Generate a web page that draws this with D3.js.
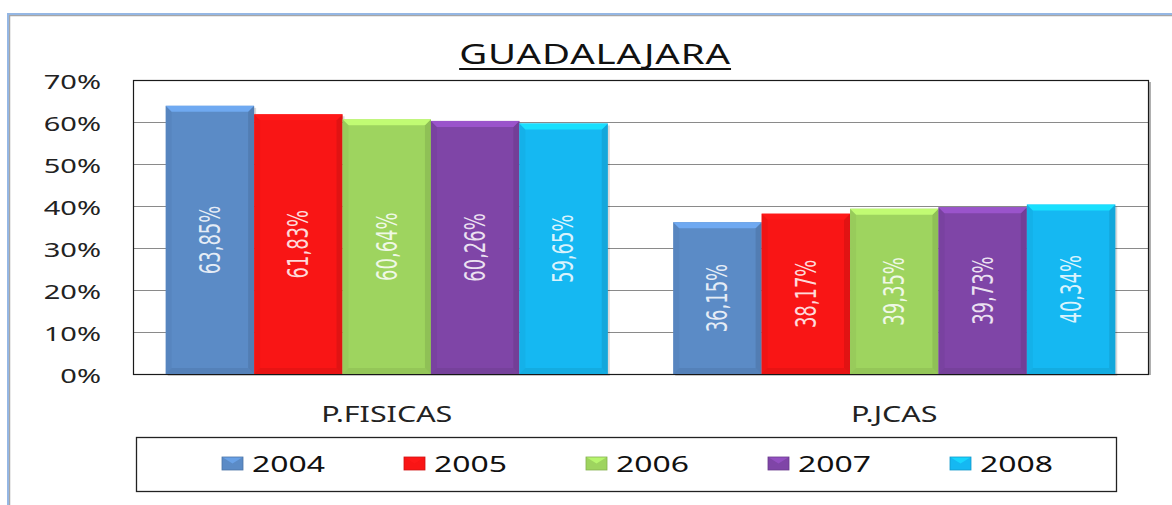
<!DOCTYPE html>
<html><head><meta charset="utf-8">
<script src="https://cdn.jsdelivr.net/npm/d3@7"></script>
<style>
html,body{margin:0;padding:0;background:#fff;}
svg{display:block;}
</style></head>
<body>
<svg id="chart" width="1172" height="505"></svg>
<script>
const title = "GUADALAJARA";
const categories = ["P.FISICAS", "P.JCAS"];
const years = ["2004", "2005", "2006", "2007", "2008"];
const v2004 = [63.85, 36.15];
const v2005 = [61.83, 38.17];
const v2006 = [60.64, 39.35];
const v2007 = [60.26, 39.73];
const v2008 = [59.65, 40.34];
const yTicks = [0, 10, 20, 30, 40, 50, 60, 70];
const colors = ["#5b8bc6", "#f91515", "#9ed45f", "#7f45a7", "#15b8f2"];

const series = [v2004, v2005, v2006, v2007, v2008];
const SX = 1.45; // horizontal stretch of the original picture's text

const svg = d3.select("#chart");
const W = 1172, H = 505;
const plot = {left: 133, right: 1148, top: 80, bottom: 374};

// outer frame
svg.append("rect").attr("x", 9.5).attr("y", 15.5).attr("width", W + 20).attr("height", H + 20)
  .attr("fill", "none").attr("stroke", "#a6a6a6").attr("stroke-width", 1.5);
svg.append("rect").attr("x", 8).attr("y", 14).attr("width", W + 20).attr("height", H + 20)
  .attr("fill", "none").attr("stroke", "#95b7e4").attr("stroke-width", 2);

const x0 = d3.scaleBand().domain(categories).range([plot.left, plot.right]).paddingInner(0).paddingOuter(0);
const x1 = d3.scaleBand().domain(years).range([0, x0.bandwidth()]).paddingInner(0).paddingOuter(0.37);
const y = d3.scaleLinear().domain([0, 70]).range([plot.bottom, plot.top]);

// gridlines
svg.append("g").selectAll("line").data(yTicks.filter(t => t > 0 && t < 70)).join("line")
  .attr("x1", plot.left).attr("x2", plot.right)
  .attr("y1", d => Math.round(y(d)) + 0.5).attr("y2", d => Math.round(y(d)) + 0.5)
  .attr("stroke", "#8a8a8a").attr("stroke-width", 1);

// plot frame: shadow on right
svg.append("line").attr("x1", plot.right + 2).attr("x2", plot.right + 2).attr("y1", plot.top + 2).attr("y2", plot.bottom + 1)
  .attr("stroke", "#b0b0b0").attr("stroke-width", 2);
svg.append("rect").attr("x", plot.left + 0.5).attr("y", plot.top + 0.5)
  .attr("width", plot.right - plot.left).attr("height", plot.bottom - plot.top)
  .attr("fill", "none").attr("stroke", "#1a1a1a").attr("stroke-width", 1.2);

// y axis labels
const yAxis = d3.axisLeft(y).tickValues(yTicks).tickFormat(d => d + "%").tickSize(0).tickPadding(0);
const ga = svg.append("g").attr("transform", `translate(${plot.left},0)`).call(yAxis);
ga.select(".domain").remove();
ga.selectAll(".tick text")
  .attr("x", 0).attr("dy", null).attr("dominant-baseline", "central")
  .attr("text-anchor", "end")
  .attr("font-family", "'Noto Sans', 'Open Sans', sans-serif").attr("font-size", 20).attr("fill", "#222")
  .attr("transform", `translate(-32,0) scale(${SX},1)`);

// bars
const data = [];
categories.forEach((c, ci) => years.forEach((yr, yi) => data.push({c, yr, yi, v: series[yi][ci]})));

function shade(col, k) { return d3.color(col).darker(k).formatHex(); }
function tint(col, k) { return d3.color(col).brighter(k).formatHex(); }

const gb = svg.append("g");
const bars = gb.selectAll("g.bar").data(data).join("g").attr("class", "bar");
bars.each(function(d) {
  const g = d3.select(this);
  const bx = x0(d.c) + x1(d.yr), bw = x1.bandwidth();
  const by = y(d.v), bh = y(0) - y(d.v);
  const col = colors[d.yi];
  const e = 6;
  // shadow
  g.append("rect").attr("x", bx + 2).attr("y", by + 2).attr("width", bw).attr("height", bh)
    .attr("fill", "#000").attr("opacity", 0.15);
  g.append("rect").attr("x", bx).attr("y", by).attr("width", bw).attr("height", bh).attr("fill", col);
  // left bevel
  g.append("polygon").attr("points", [[bx, by], [bx + e, by + e], [bx + e, by + bh - e], [bx, by + bh]].join(" "))
    .attr("fill", shade(col, 0.25)).attr("opacity", 0.45);
  // right bevel
  g.append("polygon").attr("points", [[bx + bw, by], [bx + bw - e, by + e], [bx + bw - e, by + bh - e], [bx + bw, by + bh]].join(" "))
    .attr("fill", shade(col, 0.6)).attr("opacity", 0.5);
  // bottom bevel
  g.append("polygon").attr("points", [[bx, by + bh], [bx + e, by + bh - e], [bx + bw - e, by + bh - e], [bx + bw, by + bh]].join(" "))
    .attr("fill", shade(col, 0.6)).attr("opacity", 0.35);
  // top bevel
  g.append("polygon").attr("points", [[bx, by], [bx + bw, by], [bx + bw - e, by + e], [bx + e, by + e]].join(" "))
    .attr("fill", tint(col, 0.6)).attr("opacity", 0.9);
  // label
  const cx = bx + bw / 2, cy = by + bh / 2;
  g.append("text")
    .attr("transform", `translate(${cx},${cy}) scale(${SX},1) rotate(-90)`)
    .attr("text-anchor", "middle").attr("dominant-baseline", "central")
    .attr("font-family", "'DejaVu Sans Condensed', 'DejaVu Sans', sans-serif")
    .attr("font-stretch", "condensed")
    .attr("font-size", 20).attr("fill", "#fff").attr("fill-opacity", 0.85)
    .text(d.v.toFixed(2).replace(".", ",") + "%");
});

// category labels
svg.append("g").selectAll("text").data(categories).join("text")
  .attr("transform", d => `translate(${x0(d) + x0.bandwidth() / 2},422) scale(${SX},1)`)
  .attr("text-anchor", "middle")
  .attr("font-family", "'Noto Sans', 'Open Sans', sans-serif").attr("font-size", 21).attr("fill", "#222")
  .text(d => d);

// title
const tt = svg.append("text")
  .attr("transform", `translate(595,64) scale(${SX},1)`)
  .attr("text-anchor", "middle")
  .attr("font-family", "'Noto Sans', 'Open Sans', sans-serif").attr("font-size", 26.5).attr("fill", "#111")
  .attr("letter-spacing", 0.6)
  .text(title);
const tb = tt.node().getBBox();
svg.append("line").attr("x1", 595 + tb.x * SX).attr("x2", 595 + (tb.x + tb.width) * SX)
  .attr("y1", 69).attr("y2", 69).attr("stroke", "#111").attr("stroke-width", 2);

// legend
const leg = {x: 136, y: 437, w: 980, h: 54};
svg.append("rect").attr("x", leg.x + 0.5).attr("y", leg.y + 0.5).attr("width", leg.w).attr("height", leg.h)
  .attr("fill", "#fff").attr("stroke", "#222").attr("stroke-width", 1.3);
const lx = d3.scaleLinear().domain([0, 4]).range([222, 950]);
const li = svg.append("g").selectAll("g").data(years).join("g")
  .attr("transform", (d, i) => `translate(${lx(i)},0)`);
li.append("rect").attr("x", 0).attr("y", 457).attr("width", 21).attr("height", 13)
  .attr("fill", (d, i) => colors[i]);
li.append("polygon").attr("points", "0,457 21,457 10.5,463.5")
  .attr("fill", (d, i) => tint(colors[i], 0.5)).attr("opacity", 0.8);
li.append("rect").attr("x", 0).attr("y", 457).attr("width", 21).attr("height", 13)
  .attr("fill", "none").attr("stroke", (d, i) => shade(colors[i], 0.5)).attr("stroke-width", 0.8);
li.append("text")
  .attr("transform", `translate(30,472) scale(${SX},1)`)
  .attr("font-family", "'Noto Sans', 'Open Sans', sans-serif").attr("font-size", 22).attr("fill", "#111")
  .text(d => d);
</script>
</body></html>
